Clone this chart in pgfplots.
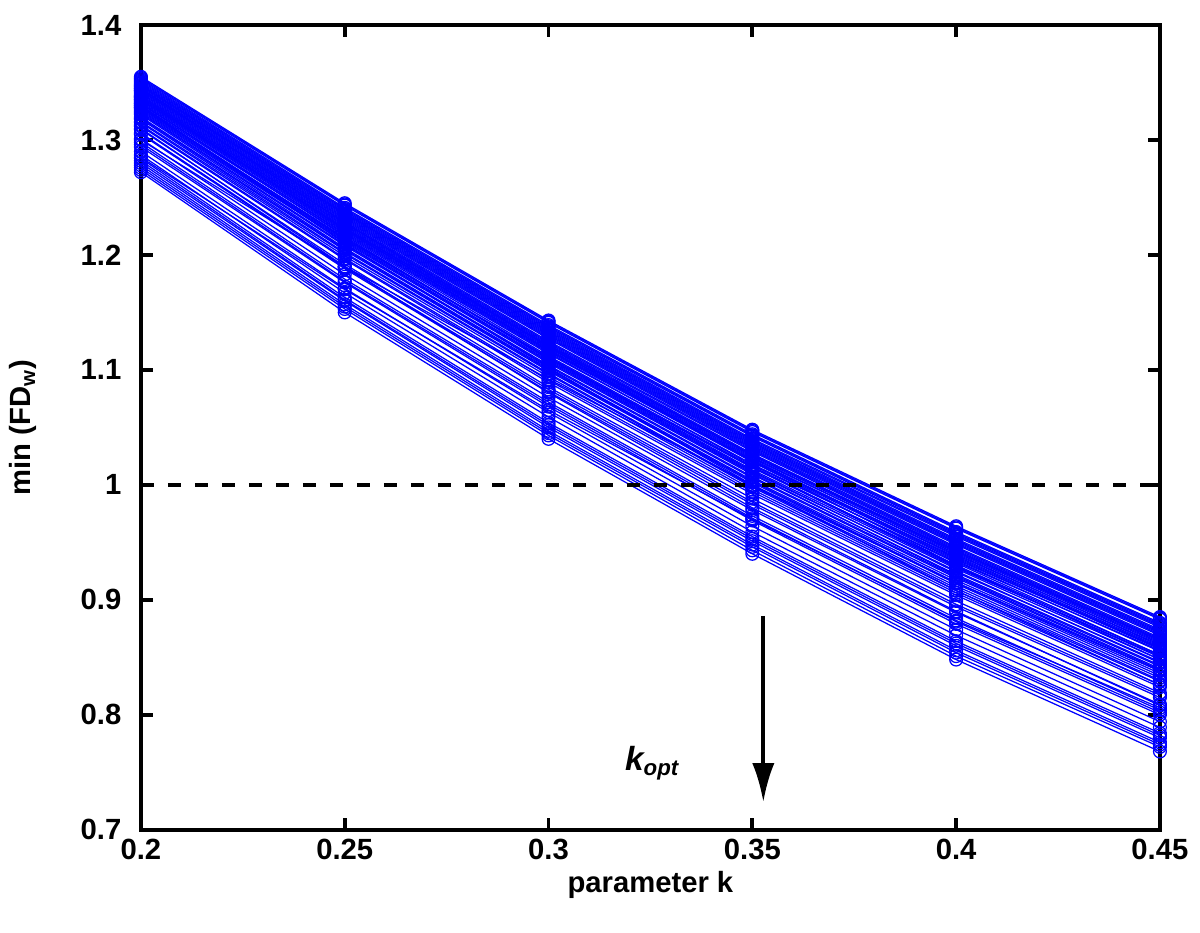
\documentclass[border=0pt]{standalone}
\usepackage{pgfplots}
\pgfplotsset{compat=1.18}
\usetikzlibrary{arrows.meta}
\usepackage{fontspec}
\setmainfont{Liberation Sans}
\definecolor{mblue}{RGB}{0,0,255}
\newcommand{\KL}[6]{\addplot[mblue, line width=0.45pt, mark=o, mark size=2.3pt, mark options={solid, line width=0.45pt}] coordinates {(0.2,#1)(0.25,#2)(0.3,#3)(0.35,#4)(0.4,#5)(0.45,#6)};}
\begin{document}
\begin{tikzpicture}
\begin{axis}[
  name=ax,
  scale only axis,
  width=366pt, height=289pt,
  xmin=0.2, xmax=0.45, ymin=0.7, ymax=1.4,
  xtick={0.2,0.25,0.3,0.35,0.4,0.45},
  ytick={0.7,0.8,0.9,1,1.1,1.2,1.3,1.4},
  xticklabels={0.2,0.25,0.3,0.35,0.4,0.45},
  yticklabels={0.7,0.8,0.9,1,1.1,1.2,1.3,1.4},
  tick align=inside, tick pos=both,
  major tick length=4.3pt,
  every tick/.style={black, line width=1.4pt},
  axis line style={line width=1.4pt},
  ticklabel style={font=\fontsize{10.5}{12}\selectfont\bfseries},
  yticklabel style={xshift=-3.5pt},
  label style={font=\fontsize{10.5}{12}\selectfont\bfseries},
  xlabel={parameter k},
  ylabel={min (FD\textsubscript{w})},
  xlabel style={yshift=3pt},
  ylabel style={yshift=9pt},
  clip=true,
]
\KL{1.272}{1.150}{1.040}{0.940}{0.848}{0.768}
\KL{1.274}{1.153}{1.043}{0.943}{0.851}{0.772}
\KL{1.278}{1.157}{1.047}{0.948}{0.856}{0.776}
\KL{1.280}{1.160}{1.050}{0.951}{0.860}{0.780}
\KL{1.284}{1.163}{1.054}{0.955}{0.864}{0.784}
\KL{1.287}{1.167}{1.059}{0.959}{0.869}{0.789}
\KL{1.290}{1.171}{1.063}{0.964}{0.874}{0.794}
\KL{1.294}{1.176}{1.068}{0.969}{0.879}{0.800}
\KL{1.298}{1.179}{1.072}{0.973}{0.884}{0.804}
\KL{1.301}{1.183}{1.076}{0.978}{0.889}{0.809}
\KL{1.305}{1.188}{1.081}{0.983}{0.894}{0.815}
\KL{1.309}{1.192}{1.085}{0.988}{0.899}{0.819}
\KL{1.312}{1.196}{1.089}{0.992}{0.904}{0.824}
\KL{1.315}{1.199}{1.094}{0.996}{0.908}{0.829}
\KL{1.318}{1.202}{1.097}{0.999}{0.912}{0.832}
\KL{1.320}{1.205}{1.100}{1.003}{0.915}{0.836}
\KL{1.323}{1.208}{1.103}{1.006}{0.919}{0.839}
\KL{1.325}{1.211}{1.106}{1.009}{0.922}{0.843}
\KL{1.327}{1.213}{1.108}{1.011}{0.925}{0.845}
\KL{1.328}{1.215}{1.110}{1.013}{0.927}{0.848}
\KL{1.330}{1.217}{1.112}{1.016}{0.929}{0.850}
\KL{1.332}{1.218}{1.114}{1.018}{0.932}{0.852}
\KL{1.333}{1.220}{1.116}{1.020}{0.934}{0.855}
\KL{1.335}{1.222}{1.118}{1.022}{0.936}{0.857}
\KL{1.337}{1.224}{1.120}{1.024}{0.938}{0.859}
\KL{1.338}{1.226}{1.122}{1.026}{0.941}{0.862}
\KL{1.340}{1.228}{1.124}{1.029}{0.943}{0.864}
\KL{1.342}{1.230}{1.127}{1.031}{0.945}{0.866}
\KL{1.343}{1.232}{1.129}{1.033}{0.948}{0.869}
\KL{1.345}{1.234}{1.131}{1.035}{0.950}{0.871}
\KL{1.347}{1.236}{1.133}{1.037}{0.952}{0.873}
\KL{1.348}{1.237}{1.135}{1.039}{0.955}{0.876}
\KL{1.350}{1.239}{1.137}{1.042}{0.957}{0.878}
\KL{1.352}{1.241}{1.139}{1.044}{0.959}{0.880}
\KL{1.353}{1.243}{1.141}{1.046}{0.962}{0.883}
\KL{1.355}{1.245}{1.143}{1.048}{0.964}{0.885}
\KL{1.285}{1.170}{1.065}{0.970}{0.882}{0.806}
\KL{1.310}{1.190}{1.080}{0.980}{0.890}{0.808}
\KL{1.330}{1.210}{1.102}{1.000}{0.908}{0.826}
\KL{1.345}{1.228}{1.120}{1.020}{0.930}{0.848}
\KL{1.300}{1.190}{1.092}{1.000}{0.915}{0.838}
\KL{1.322}{1.206}{1.101}{1.004}{0.917}{0.838}
\KL{1.326}{1.212}{1.107}{1.010}{0.921}{0.842}
\KL{1.329}{1.214}{1.111}{1.015}{0.928}{0.851}
\KL{1.331}{1.219}{1.115}{1.017}{0.933}{0.856}
\KL{1.334}{1.221}{1.117}{1.021}{0.935}{0.858}
\KL{1.336}{1.223}{1.119}{1.023}{0.939}{0.861}
\KL{1.339}{1.227}{1.123}{1.027}{0.942}{0.863}
\KL{1.341}{1.229}{1.125}{1.030}{0.944}{0.865}
\KL{1.344}{1.233}{1.130}{1.034}{0.949}{0.870}
\KL{1.346}{1.235}{1.132}{1.036}{0.951}{0.872}
\KL{1.349}{1.238}{1.136}{1.040}{0.956}{0.877}
\KL{1.351}{1.240}{1.138}{1.043}{0.958}{0.879}
\KL{1.354}{1.244}{1.142}{1.047}{0.963}{0.884}
\KL{1.324}{1.209}{1.104}{1.007}{0.920}{0.840}
\KL{1.332}{1.216}{1.109}{1.012}{0.924}{0.846}
\KL{1.338}{1.225}{1.121}{1.025}{0.940}{0.860}
\KL{1.343}{1.231}{1.128}{1.032}{0.946}{0.867}
\KL{1.347}{1.236}{1.134}{1.038}{0.953}{0.874}
\KL{1.335}{1.223}{1.121}{1.026}{0.942}{0.865}
\KL{1.328}{1.214}{1.110}{1.015}{0.930}{0.852}
\KL{1.316}{1.201}{1.096}{0.998}{0.910}{0.830}
\KL{1.313}{1.197}{1.091}{0.994}{0.906}{0.826}
\KL{1.306}{1.189}{1.083}{0.985}{0.896}{0.817}
\KL{1.296}{1.177}{1.070}{0.971}{0.881}{0.802}
\KL{1.282}{1.161}{1.052}{0.953}{0.862}{0.782}
\KL{1.276}{1.155}{1.045}{0.946}{0.854}{0.774}
\KL{1.319}{1.204}{1.099}{1.002}{0.914}{0.834}
\KL{1.337}{1.222}{1.117}{1.021}{0.937}{0.858}
\addplot[black, line width=1.45pt, dash pattern=on 4.7pt off 5pt] coordinates {(0.2,1) (0.45,1)};
\addplot[black, line width=1.4pt, -{Latex[length=14pt,width=8pt]}] coordinates {(0.3527,0.886) (0.3527,0.724)};
\node[font=\fontsize{12}{14}\selectfont\bfseries\itshape] at (axis cs:0.3255,0.758) {k\textsubscript{opt}};
\end{axis}
\path ([yshift=-37pt]ax.south west);
\path ([xshift=14.4pt]ax.south east);
\path ([yshift=9pt]ax.north west);
\end{tikzpicture}
\end{document}
